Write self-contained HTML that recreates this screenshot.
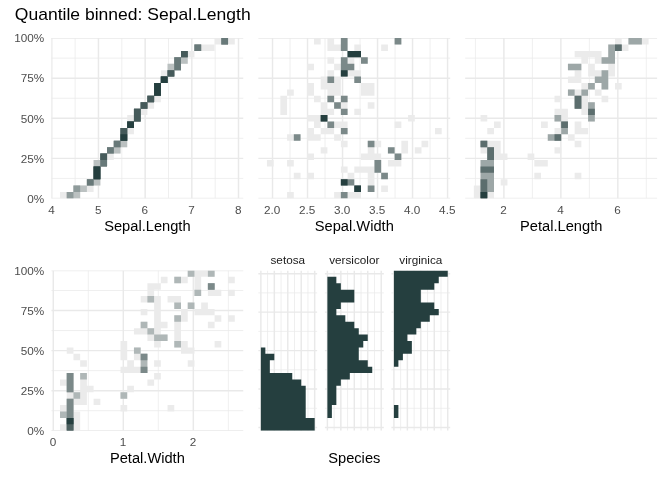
<!DOCTYPE html>
<html><head><meta charset="utf-8"><title>Quantile binned: Sepal.Length</title>
<style>html,body{margin:0;padding:0;background:#fff}svg{display:block;font-family:"Liberation Sans",Arial,Helvetica,sans-serif}</style>
</head><body>
<svg width="672" height="480" viewBox="0 0 672 480" shape-rendering="auto">
<rect x="0" y="0" width="672" height="480" fill="#ffffff"/>
<clipPath id="c1"><rect x="51.27" y="38.10" width="192.24" height="160.35"/></clipPath>
<g clip-path="url(#c1)">
<line x1="51.27" y1="178.41" x2="243.51" y2="178.41" stroke="#e9e9e9" stroke-width="0.75"/>
<line x1="51.27" y1="138.32" x2="243.51" y2="138.32" stroke="#e9e9e9" stroke-width="0.75"/>
<line x1="51.27" y1="98.23" x2="243.51" y2="98.23" stroke="#e9e9e9" stroke-width="0.75"/>
<line x1="51.27" y1="58.14" x2="243.51" y2="58.14" stroke="#e9e9e9" stroke-width="0.75"/>
<line x1="75.13" y1="38.10" x2="75.13" y2="198.45" stroke="#e9e9e9" stroke-width="0.75"/>
<line x1="121.81" y1="38.10" x2="121.81" y2="198.45" stroke="#e9e9e9" stroke-width="0.75"/>
<line x1="168.49" y1="38.10" x2="168.49" y2="198.45" stroke="#e9e9e9" stroke-width="0.75"/>
<line x1="215.17" y1="38.10" x2="215.17" y2="198.45" stroke="#e9e9e9" stroke-width="0.75"/>
<line x1="51.27" y1="198.45" x2="243.51" y2="198.45" stroke="#e9e9e9" stroke-width="1.45"/>
<line x1="51.27" y1="158.36" x2="243.51" y2="158.36" stroke="#e9e9e9" stroke-width="1.45"/>
<line x1="51.27" y1="118.27" x2="243.51" y2="118.27" stroke="#e9e9e9" stroke-width="1.45"/>
<line x1="51.27" y1="78.19" x2="243.51" y2="78.19" stroke="#e9e9e9" stroke-width="1.45"/>
<line x1="51.27" y1="38.10" x2="243.51" y2="38.10" stroke="#e9e9e9" stroke-width="1.45"/>
<line x1="51.79" y1="38.10" x2="51.79" y2="198.45" stroke="#e9e9e9" stroke-width="1.45"/>
<line x1="98.47" y1="38.10" x2="98.47" y2="198.45" stroke="#e9e9e9" stroke-width="1.45"/>
<line x1="145.15" y1="38.10" x2="145.15" y2="198.45" stroke="#e9e9e9" stroke-width="1.45"/>
<line x1="191.83" y1="38.10" x2="191.83" y2="198.45" stroke="#e9e9e9" stroke-width="1.45"/>
<line x1="238.51" y1="38.10" x2="238.51" y2="198.45" stroke="#e9e9e9" stroke-width="1.45"/>
<path fill="#ebebeb" fill-rule="evenodd" d="M93.62 159.97L93.62 166.38L93.62 172.79L93.62 179.21L86.89 179.21L86.89 185.62L80.17 185.62L73.45 185.62L73.45 192.04L66.73 192.04L60.01 192.04L60.01 198.45L66.73 198.45L73.45 198.45L80.17 198.45L80.17 192.04L86.89 192.04L93.62 192.04L93.62 185.62L100.34 185.62L100.34 179.21L100.34 172.79L100.34 166.38L107.06 166.38L107.06 159.97L113.78 159.97L113.78 153.55L120.50 153.55L120.50 147.14L127.22 147.14L127.22 140.72L127.22 134.31L133.95 134.31L133.95 127.90L133.95 121.48L140.67 121.48L140.67 115.07L147.39 115.07L147.39 108.65L154.11 108.65L154.11 102.24L160.83 102.24L160.83 95.83L160.83 89.41L160.83 83.00L154.11 83.00L154.11 89.41L154.11 95.83L147.39 95.83L147.39 102.24L140.67 102.24L140.67 108.65L133.95 108.65L133.95 115.07L127.22 115.07L127.22 121.48L127.22 127.90L120.50 127.90L120.50 134.31L120.50 140.72L113.78 140.72L113.78 147.14L107.06 147.14L107.06 153.55L100.34 153.55L100.34 159.97ZM234.77 44.51L234.77 38.10L228.05 38.10L221.33 38.10L214.61 38.10L214.61 44.51L221.33 44.51L228.05 44.51ZM214.61 50.93L214.61 44.51L207.88 44.51L201.16 44.51L194.44 44.51L194.44 50.93L201.16 50.93L207.88 50.93ZM181.00 50.93L181.00 57.34L174.28 57.34L174.28 63.76L167.56 63.76L167.56 70.17L160.83 70.17L160.83 76.58L160.83 83.00L167.56 83.00L167.56 76.58L174.28 76.58L174.28 70.17L181.00 70.17L181.00 63.76L187.72 63.76L187.72 57.34L194.44 57.34L194.44 50.93L187.72 50.93Z"/>
<path fill="#bbc1c1" fill-rule="evenodd" d="M113.78 140.72L113.78 147.14L107.06 147.14L107.06 153.55L113.78 153.55L120.50 153.55L120.50 147.14L127.22 147.14L127.22 140.72L127.22 134.31L127.22 127.90L120.50 127.90L120.50 134.31L120.50 140.72ZM93.62 159.97L93.62 166.38L93.62 172.79L93.62 179.21L86.89 179.21L86.89 185.62L93.62 185.62L100.34 185.62L100.34 179.21L100.34 172.79L100.34 166.38L107.06 166.38L107.06 159.97L107.06 153.55L100.34 153.55L100.34 159.97ZM73.45 185.62L73.45 192.04L66.73 192.04L66.73 198.45L73.45 198.45L80.17 198.45L80.17 192.04L86.89 192.04L86.89 185.62L80.17 185.62ZM221.33 38.10L221.33 44.51L228.05 44.51L228.05 38.10ZM194.44 44.51L194.44 50.93L201.16 50.93L201.16 44.51ZM181.00 57.34L174.28 57.34L174.28 63.76L167.56 63.76L167.56 70.17L167.56 76.58L174.28 76.58L174.28 70.17L181.00 70.17L181.00 63.76L187.72 63.76L187.72 57.34L187.72 50.93L181.00 50.93ZM160.83 76.58L160.83 83.00L167.56 83.00L167.56 76.58ZM160.83 95.83L160.83 89.41L160.83 83.00L154.11 83.00L154.11 89.41L154.11 95.83ZM154.11 102.24L154.11 95.83L147.39 95.83L147.39 102.24ZM140.67 102.24L140.67 108.65L147.39 108.65L147.39 102.24ZM140.67 121.48L140.67 115.07L140.67 108.65L133.95 108.65L133.95 115.07L133.95 121.48ZM127.22 127.90L133.95 127.90L133.95 121.48L127.22 121.48Z"/>
<path fill="#8f9b9b" fill-rule="evenodd" d="M133.95 121.48L140.67 121.48L140.67 115.07L140.67 108.65L133.95 108.65L133.95 115.07ZM133.95 127.90L133.95 121.48L127.22 121.48L127.22 127.90ZM120.50 134.31L120.50 140.72L127.22 140.72L127.22 134.31L127.22 127.90L120.50 127.90ZM120.50 147.14L120.50 140.72L113.78 140.72L113.78 147.14ZM107.06 147.14L107.06 153.55L113.78 153.55L113.78 147.14ZM100.34 166.38L107.06 166.38L107.06 159.97L107.06 153.55L100.34 153.55L100.34 159.97ZM93.62 172.79L93.62 179.21L100.34 179.21L100.34 172.79L100.34 166.38L93.62 166.38ZM86.89 179.21L86.89 185.62L93.62 185.62L93.62 179.21ZM73.45 185.62L73.45 192.04L80.17 192.04L80.17 185.62ZM73.45 192.04L66.73 192.04L66.73 198.45L73.45 198.45ZM221.33 38.10L221.33 44.51L228.05 44.51L228.05 38.10ZM194.44 44.51L194.44 50.93L201.16 50.93L201.16 44.51ZM181.00 57.34L187.72 57.34L187.72 50.93L181.00 50.93ZM181.00 70.17L181.00 63.76L181.00 57.34L174.28 57.34L174.28 63.76L174.28 70.17ZM167.56 76.58L174.28 76.58L174.28 70.17L167.56 70.17ZM167.56 83.00L167.56 76.58L160.83 76.58L160.83 83.00ZM154.11 89.41L154.11 95.83L160.83 95.83L160.83 89.41L160.83 83.00L154.11 83.00ZM147.39 95.83L147.39 102.24L154.11 102.24L154.11 95.83ZM147.39 108.65L147.39 102.24L140.67 102.24L140.67 108.65Z"/>
<path fill="#687979" fill-rule="evenodd" d="M133.95 121.48L140.67 121.48L140.67 115.07L140.67 108.65L133.95 108.65L133.95 115.07ZM127.22 127.90L133.95 127.90L133.95 121.48L127.22 121.48ZM127.22 140.72L127.22 134.31L127.22 127.90L120.50 127.90L120.50 134.31L120.50 140.72ZM113.78 147.14L120.50 147.14L120.50 140.72L113.78 140.72ZM113.78 153.55L113.78 147.14L107.06 147.14L107.06 153.55ZM100.34 159.97L100.34 166.38L107.06 166.38L107.06 159.97L107.06 153.55L100.34 153.55ZM100.34 179.21L100.34 172.79L100.34 166.38L93.62 166.38L93.62 172.79L93.62 179.21ZM93.62 179.21L86.89 179.21L86.89 185.62L93.62 185.62ZM221.33 38.10L221.33 44.51L228.05 44.51L228.05 38.10ZM194.44 44.51L194.44 50.93L201.16 50.93L201.16 44.51ZM181.00 57.34L187.72 57.34L187.72 50.93L181.00 50.93ZM181.00 70.17L181.00 63.76L181.00 57.34L174.28 57.34L174.28 63.76L174.28 70.17ZM167.56 76.58L174.28 76.58L174.28 70.17L167.56 70.17ZM167.56 83.00L167.56 76.58L160.83 76.58L160.83 83.00ZM154.11 89.41L154.11 95.83L160.83 95.83L160.83 89.41L160.83 83.00L154.11 83.00ZM154.11 102.24L154.11 95.83L147.39 95.83L147.39 102.24ZM140.67 102.24L140.67 108.65L147.39 108.65L147.39 102.24Z"/>
<path fill="#455a5a" fill-rule="evenodd" d="M133.95 115.07L133.95 121.48L140.67 121.48L140.67 115.07L140.67 108.65L133.95 108.65ZM133.95 121.48L127.22 121.48L127.22 127.90L133.95 127.90ZM120.50 140.72L127.22 140.72L127.22 134.31L127.22 127.90L120.50 127.90L120.50 134.31ZM107.06 153.55L100.34 153.55L100.34 159.97L107.06 159.97ZM100.34 166.38L93.62 166.38L93.62 172.79L93.62 179.21L100.34 179.21L100.34 172.79ZM187.72 50.93L181.00 50.93L181.00 57.34L187.72 57.34ZM167.56 76.58L174.28 76.58L174.28 70.17L167.56 70.17ZM167.56 76.58L160.83 76.58L160.83 83.00L167.56 83.00ZM154.11 95.83L160.83 95.83L160.83 89.41L160.83 83.00L154.11 83.00L154.11 89.41ZM147.39 102.24L154.11 102.24L154.11 95.83L147.39 95.83ZM147.39 102.24L140.67 102.24L140.67 108.65L147.39 108.65Z"/>
<path fill="#253f3f" fill-rule="evenodd" d="M167.56 76.58L160.83 76.58L160.83 83.00L167.56 83.00ZM154.11 89.41L154.11 95.83L160.83 95.83L160.83 89.41L160.83 83.00L154.11 83.00ZM133.95 127.90L133.95 121.48L127.22 121.48L127.22 127.90ZM127.22 140.72L127.22 134.31L120.50 134.31L120.50 140.72ZM93.62 172.79L93.62 179.21L100.34 179.21L100.34 172.79L100.34 166.38L93.62 166.38Z"/>
</g>
<text x="51.49" y="214.05" font-size="11.73" text-anchor="middle" fill="#4d4d4d">4</text>
<text x="98.17" y="214.05" font-size="11.73" text-anchor="middle" fill="#4d4d4d">5</text>
<text x="144.85" y="214.05" font-size="11.73" text-anchor="middle" fill="#4d4d4d">6</text>
<text x="191.53" y="214.05" font-size="11.73" text-anchor="middle" fill="#4d4d4d">7</text>
<text x="238.21" y="214.05" font-size="11.73" text-anchor="middle" fill="#4d4d4d">8</text>
<text x="147.39" y="230.85" font-size="14.67" text-anchor="middle" fill="#000">Sepal.Length</text>
<text x="44.27" y="202.75" font-size="11.73" text-anchor="end" fill="#4d4d4d">0%</text>
<text x="44.27" y="162.66" font-size="11.73" text-anchor="end" fill="#4d4d4d">25%</text>
<text x="44.27" y="122.57" font-size="11.73" text-anchor="end" fill="#4d4d4d">50%</text>
<text x="44.27" y="82.49" font-size="11.73" text-anchor="end" fill="#4d4d4d">75%</text>
<text x="44.27" y="42.40" font-size="11.73" text-anchor="end" fill="#4d4d4d">100%</text>
<clipPath id="c2"><rect x="258.18" y="38.10" width="192.24" height="160.35"/></clipPath>
<g clip-path="url(#c2)">
<line x1="258.18" y1="178.41" x2="450.42" y2="178.41" stroke="#e9e9e9" stroke-width="0.75"/>
<line x1="258.18" y1="138.32" x2="450.42" y2="138.32" stroke="#e9e9e9" stroke-width="0.75"/>
<line x1="258.18" y1="98.23" x2="450.42" y2="98.23" stroke="#e9e9e9" stroke-width="0.75"/>
<line x1="258.18" y1="58.14" x2="450.42" y2="58.14" stroke="#e9e9e9" stroke-width="0.75"/>
<line x1="290.02" y1="38.10" x2="290.02" y2="198.45" stroke="#e9e9e9" stroke-width="0.75"/>
<line x1="325.03" y1="38.10" x2="325.03" y2="198.45" stroke="#e9e9e9" stroke-width="0.75"/>
<line x1="360.04" y1="38.10" x2="360.04" y2="198.45" stroke="#e9e9e9" stroke-width="0.75"/>
<line x1="395.05" y1="38.10" x2="395.05" y2="198.45" stroke="#e9e9e9" stroke-width="0.75"/>
<line x1="430.06" y1="38.10" x2="430.06" y2="198.45" stroke="#e9e9e9" stroke-width="0.75"/>
<line x1="258.18" y1="198.45" x2="450.42" y2="198.45" stroke="#e9e9e9" stroke-width="1.45"/>
<line x1="258.18" y1="158.36" x2="450.42" y2="158.36" stroke="#e9e9e9" stroke-width="1.45"/>
<line x1="258.18" y1="118.27" x2="450.42" y2="118.27" stroke="#e9e9e9" stroke-width="1.45"/>
<line x1="258.18" y1="78.19" x2="450.42" y2="78.19" stroke="#e9e9e9" stroke-width="1.45"/>
<line x1="258.18" y1="38.10" x2="450.42" y2="38.10" stroke="#e9e9e9" stroke-width="1.45"/>
<line x1="272.52" y1="38.10" x2="272.52" y2="198.45" stroke="#e9e9e9" stroke-width="1.45"/>
<line x1="307.53" y1="38.10" x2="307.53" y2="198.45" stroke="#e9e9e9" stroke-width="1.45"/>
<line x1="342.54" y1="38.10" x2="342.54" y2="198.45" stroke="#e9e9e9" stroke-width="1.45"/>
<line x1="377.55" y1="38.10" x2="377.55" y2="198.45" stroke="#e9e9e9" stroke-width="1.45"/>
<line x1="412.55" y1="38.10" x2="412.55" y2="198.45" stroke="#e9e9e9" stroke-width="1.45"/>
<line x1="447.56" y1="38.10" x2="447.56" y2="198.45" stroke="#e9e9e9" stroke-width="1.45"/>
<path fill="#ebebeb" fill-rule="evenodd" d="M313.97 44.51L320.69 44.51L320.69 38.10L313.97 38.10ZM313.97 70.17L313.97 63.76L307.25 63.76L307.25 70.17ZM327.41 89.41L327.41 95.83L327.41 102.24L334.13 102.24L334.13 95.83L340.86 95.83L340.86 89.41L340.86 83.00L340.86 76.58L334.13 76.58L334.13 70.17L327.41 70.17L327.41 76.58L320.69 76.58L320.69 83.00L320.69 89.41ZM307.25 83.00L307.25 89.41L307.25 95.83L313.97 95.83L313.97 89.41L313.97 83.00ZM293.81 95.83L293.81 89.41L287.08 89.41L287.08 95.83ZM287.08 108.65L287.08 102.24L287.08 95.83L280.36 95.83L280.36 102.24L280.36 108.65L280.36 115.07L287.08 115.07ZM313.97 102.24L320.69 102.24L320.69 95.83L313.97 95.83ZM320.69 102.24L320.69 108.65L320.69 115.07L313.97 115.07L307.25 115.07L307.25 121.48L313.97 121.48L313.97 127.90L320.69 127.90L320.69 121.48L327.41 121.48L327.41 115.07L334.13 115.07L334.13 108.65L327.41 108.65L327.41 102.24ZM334.13 134.31L334.13 127.90L340.86 127.90L340.86 134.31L347.58 134.31L347.58 127.90L347.58 121.48L340.86 121.48L334.13 121.48L327.41 121.48L327.41 127.90L320.69 127.90L320.69 134.31L327.41 134.31ZM320.69 134.31L313.97 134.31L313.97 127.90L307.25 127.90L307.25 134.31L307.25 140.72L313.97 140.72L320.69 140.72ZM287.08 140.72L293.81 140.72L300.53 140.72L300.53 134.31L293.81 134.31L287.08 134.31ZM327.41 153.55L327.41 147.14L320.69 147.14L320.69 153.55ZM313.97 159.97L313.97 153.55L307.25 153.55L307.25 159.97ZM293.81 166.38L293.81 159.97L287.08 159.97L287.08 166.38ZM273.64 166.38L273.64 159.97L266.92 159.97L266.92 166.38ZM313.97 179.21L313.97 172.79L307.25 172.79L307.25 179.21ZM300.53 179.21L300.53 172.79L293.81 172.79L293.81 179.21ZM287.08 198.45L293.81 198.45L293.81 192.04L287.08 192.04ZM334.13 50.93L340.86 50.93L347.58 50.93L347.58 44.51L347.58 38.10L340.86 38.10L340.86 44.51L334.13 44.51L334.13 38.10L327.41 38.10L327.41 44.51L327.41 50.93ZM334.13 63.76L334.13 57.34L327.41 57.34L327.41 63.76ZM334.13 63.76L334.13 70.17L340.86 70.17L340.86 76.58L347.58 76.58L354.30 76.58L354.30 83.00L361.02 83.00L361.02 76.58L361.02 70.17L354.30 70.17L354.30 63.76L354.30 57.34L361.02 57.34L361.02 50.93L361.02 44.51L354.30 44.51L354.30 50.93L347.58 50.93L347.58 57.34L340.86 57.34L340.86 63.76ZM340.86 108.65L340.86 115.07L347.58 115.07L347.58 108.65L347.58 102.24L347.58 95.83L340.86 95.83L340.86 102.24L334.13 102.24L334.13 108.65ZM334.13 140.72L340.86 140.72L340.86 134.31L334.13 134.31ZM347.58 140.72L340.86 140.72L340.86 147.14L347.58 147.14ZM347.58 185.62L354.30 185.62L354.30 179.21L354.30 172.79L347.58 172.79L347.58 179.21L340.86 179.21L340.86 185.62ZM340.86 198.45L347.58 198.45L354.30 198.45L361.02 198.45L361.02 192.04L361.02 185.62L354.30 185.62L354.30 192.04L347.58 192.04L340.86 192.04L334.13 192.04L334.13 198.45ZM367.74 63.76L367.74 57.34L361.02 57.34L361.02 63.76ZM361.02 89.41L361.02 95.83L367.74 95.83L374.46 95.83L374.46 89.41L374.46 83.00L367.74 83.00L361.02 83.00ZM361.02 115.07L361.02 108.65L354.30 108.65L354.30 115.07ZM367.74 159.97L374.46 159.97L374.46 166.38L367.74 166.38L361.02 166.38L354.30 166.38L354.30 172.79L361.02 172.79L367.74 172.79L367.74 179.21L367.74 185.62L367.74 192.04L374.46 192.04L374.46 185.62L374.46 179.21L374.46 172.79L381.19 172.79L381.19 166.38L381.19 159.97L381.19 153.55L374.46 153.55L374.46 147.14L381.19 147.14L381.19 140.72L374.46 140.72L367.74 140.72L367.74 147.14L367.74 153.55L361.02 153.55L361.02 159.97ZM340.86 172.79L347.58 172.79L347.58 166.38L340.86 166.38ZM401.35 44.51L401.35 38.10L394.63 38.10L394.63 44.51ZM387.91 50.93L387.91 44.51L381.19 44.51L381.19 50.93ZM374.46 108.65L374.46 102.24L367.74 102.24L367.74 108.65ZM414.80 121.48L414.80 115.07L408.07 115.07L408.07 121.48ZM394.63 127.90L401.35 127.90L401.35 121.48L394.63 121.48ZM441.68 134.31L441.68 127.90L434.96 127.90L434.96 134.31ZM428.24 147.14L428.24 140.72L421.52 140.72L421.52 147.14ZM401.35 153.55L408.07 153.55L408.07 147.14L408.07 140.72L401.35 140.72L401.35 147.14ZM421.52 153.55L421.52 147.14L414.80 147.14L414.80 153.55ZM394.63 153.55L394.63 147.14L387.91 147.14L387.91 153.55ZM387.91 159.97L387.91 166.38L394.63 166.38L401.35 166.38L401.35 159.97L401.35 153.55L394.63 153.55L394.63 159.97ZM387.91 179.21L387.91 172.79L381.19 172.79L381.19 179.21ZM387.91 192.04L387.91 185.62L381.19 185.62L381.19 192.04Z"/>
<path fill="#7b8989" fill-rule="evenodd" d="M340.86 50.93L347.58 50.93L347.58 44.51L347.58 38.10L340.86 38.10L340.86 44.51ZM340.86 63.76L340.86 70.17L340.86 76.58L347.58 76.58L347.58 70.17L354.30 70.17L354.30 63.76L347.58 63.76L347.58 57.34L340.86 57.34ZM327.41 76.58L327.41 83.00L334.13 83.00L334.13 76.58ZM327.41 95.83L327.41 102.24L334.13 102.24L334.13 95.83ZM347.58 102.24L347.58 95.83L340.86 95.83L340.86 102.24ZM334.13 102.24L334.13 108.65L340.86 108.65L340.86 102.24ZM340.86 108.65L340.86 115.07L347.58 115.07L347.58 108.65ZM320.69 115.07L320.69 121.48L327.41 121.48L327.41 115.07ZM327.41 121.48L327.41 127.90L334.13 127.90L334.13 121.48ZM340.86 127.90L340.86 134.31L347.58 134.31L347.58 127.90ZM293.81 134.31L293.81 140.72L300.53 140.72L300.53 134.31ZM340.86 179.21L340.86 185.62L347.58 185.62L354.30 185.62L354.30 179.21L347.58 179.21ZM340.86 192.04L340.86 198.45L347.58 198.45L347.58 192.04ZM394.63 38.10L394.63 44.51L401.35 44.51L401.35 38.10ZM361.02 50.93L354.30 50.93L347.58 50.93L347.58 57.34L354.30 57.34L361.02 57.34ZM361.02 57.34L361.02 63.76L367.74 63.76L367.74 57.34ZM354.30 76.58L354.30 83.00L361.02 83.00L361.02 76.58ZM367.74 140.72L367.74 147.14L374.46 147.14L374.46 140.72ZM394.63 147.14L387.91 147.14L387.91 153.55L394.63 153.55ZM394.63 159.97L401.35 159.97L401.35 153.55L394.63 153.55ZM381.19 172.79L381.19 166.38L381.19 159.97L374.46 159.97L374.46 166.38L374.46 172.79ZM381.19 172.79L381.19 179.21L387.91 179.21L387.91 172.79ZM354.30 185.62L354.30 192.04L361.02 192.04L361.02 185.62ZM367.74 185.62L367.74 192.04L374.46 192.04L374.46 185.62Z"/>
<path fill="#253f3f" fill-rule="evenodd" d="M347.58 57.34L354.30 57.34L361.02 57.34L361.02 50.93L354.30 50.93L347.58 50.93ZM347.58 76.58L347.58 70.17L340.86 70.17L340.86 76.58ZM320.69 121.48L327.41 121.48L327.41 115.07L320.69 115.07ZM347.58 185.62L347.58 179.21L340.86 179.21L340.86 185.62ZM361.02 192.04L361.02 185.62L354.30 185.62L354.30 192.04Z"/>
</g>
<text x="272.22" y="214.05" font-size="11.73" text-anchor="middle" fill="#4d4d4d">2.0</text>
<text x="307.23" y="214.05" font-size="11.73" text-anchor="middle" fill="#4d4d4d">2.5</text>
<text x="342.24" y="214.05" font-size="11.73" text-anchor="middle" fill="#4d4d4d">3.0</text>
<text x="377.25" y="214.05" font-size="11.73" text-anchor="middle" fill="#4d4d4d">3.5</text>
<text x="412.25" y="214.05" font-size="11.73" text-anchor="middle" fill="#4d4d4d">4.0</text>
<text x="447.26" y="214.05" font-size="11.73" text-anchor="middle" fill="#4d4d4d">4.5</text>
<text x="354.30" y="230.85" font-size="14.67" text-anchor="middle" fill="#000">Sepal.Width</text>
<clipPath id="c3"><rect x="465.09" y="38.10" width="192.24" height="160.35"/></clipPath>
<g clip-path="url(#c3)">
<line x1="465.09" y1="178.41" x2="657.33" y2="178.41" stroke="#e9e9e9" stroke-width="0.75"/>
<line x1="465.09" y1="138.32" x2="657.33" y2="138.32" stroke="#e9e9e9" stroke-width="0.75"/>
<line x1="465.09" y1="98.23" x2="657.33" y2="98.23" stroke="#e9e9e9" stroke-width="0.75"/>
<line x1="465.09" y1="58.14" x2="657.33" y2="58.14" stroke="#e9e9e9" stroke-width="0.75"/>
<line x1="475.42" y1="38.10" x2="475.42" y2="198.45" stroke="#e9e9e9" stroke-width="0.75"/>
<line x1="532.39" y1="38.10" x2="532.39" y2="198.45" stroke="#e9e9e9" stroke-width="0.75"/>
<line x1="589.35" y1="38.10" x2="589.35" y2="198.45" stroke="#e9e9e9" stroke-width="0.75"/>
<line x1="646.31" y1="38.10" x2="646.31" y2="198.45" stroke="#e9e9e9" stroke-width="0.75"/>
<line x1="465.09" y1="198.45" x2="657.33" y2="198.45" stroke="#e9e9e9" stroke-width="1.45"/>
<line x1="465.09" y1="158.36" x2="657.33" y2="158.36" stroke="#e9e9e9" stroke-width="1.45"/>
<line x1="465.09" y1="118.27" x2="657.33" y2="118.27" stroke="#e9e9e9" stroke-width="1.45"/>
<line x1="465.09" y1="78.19" x2="657.33" y2="78.19" stroke="#e9e9e9" stroke-width="1.45"/>
<line x1="465.09" y1="38.10" x2="657.33" y2="38.10" stroke="#e9e9e9" stroke-width="1.45"/>
<line x1="503.90" y1="38.10" x2="503.90" y2="198.45" stroke="#e9e9e9" stroke-width="1.45"/>
<line x1="560.87" y1="38.10" x2="560.87" y2="198.45" stroke="#e9e9e9" stroke-width="1.45"/>
<line x1="617.83" y1="38.10" x2="617.83" y2="198.45" stroke="#e9e9e9" stroke-width="1.45"/>
<path fill="#ebebeb" fill-rule="evenodd" d="M480.55 121.48L487.27 121.48L487.27 115.07L480.55 115.07ZM493.99 127.90L500.71 127.90L500.71 121.48L493.99 121.48ZM487.27 134.31L493.99 134.31L493.99 127.90L487.27 127.90ZM487.27 153.55L487.27 159.97L480.55 159.97L480.55 166.38L480.55 172.79L480.55 179.21L480.55 185.62L473.83 185.62L473.83 192.04L473.83 198.45L480.55 198.45L487.27 198.45L493.99 198.45L493.99 192.04L493.99 185.62L493.99 179.21L493.99 172.79L493.99 166.38L493.99 159.97L500.71 159.97L507.44 159.97L507.44 153.55L500.71 153.55L500.71 147.14L500.71 140.72L493.99 140.72L487.27 140.72L480.55 140.72L480.55 147.14L480.55 153.55ZM574.65 70.17L574.65 76.58L567.93 76.58L567.93 83.00L574.65 83.00L581.38 83.00L581.38 76.58L581.38 70.17L581.38 63.76L574.65 63.76L567.93 63.76L567.93 70.17ZM567.93 95.83L574.65 95.83L574.65 102.24L574.65 108.65L581.38 108.65L581.38 115.07L588.10 115.07L588.10 121.48L594.82 121.48L594.82 115.07L594.82 108.65L594.82 102.24L588.10 102.24L588.10 95.83L588.10 89.41L594.82 89.41L594.82 83.00L588.10 83.00L581.38 83.00L581.38 89.41L574.65 89.41L567.93 89.41ZM561.21 102.24L561.21 95.83L554.49 95.83L554.49 102.24ZM554.49 115.07L554.49 121.48L561.21 121.48L561.21 127.90L554.49 127.90L554.49 134.31L547.77 134.31L547.77 140.72L554.49 140.72L561.21 140.72L561.21 134.31L567.93 134.31L567.93 127.90L567.93 121.48L567.93 115.07L567.93 108.65L561.21 108.65L554.49 108.65ZM541.04 127.90L547.77 127.90L547.77 121.48L541.04 121.48ZM567.93 140.72L574.65 140.72L574.65 134.31L567.93 134.31ZM561.21 153.55L561.21 147.14L554.49 147.14L554.49 153.55ZM527.60 159.97L534.32 159.97L534.32 153.55L527.60 153.55ZM534.32 166.38L541.04 166.38L547.77 166.38L547.77 159.97L541.04 159.97L534.32 159.97ZM581.38 179.21L581.38 172.79L574.65 172.79L574.65 179.21ZM541.04 179.21L541.04 172.79L534.32 172.79L534.32 179.21ZM500.71 185.62L507.44 185.62L507.44 179.21L500.71 179.21ZM588.10 76.58L594.82 76.58L594.82 83.00L601.54 83.00L601.54 89.41L608.26 89.41L608.26 83.00L608.26 76.58L614.98 76.58L614.98 70.17L614.98 63.76L614.98 57.34L614.98 50.93L621.71 50.93L628.43 50.93L628.43 44.51L621.71 44.51L621.71 38.10L614.98 38.10L614.98 44.51L608.26 44.51L608.26 50.93L608.26 57.34L601.54 57.34L601.54 50.93L594.82 50.93L588.10 50.93L581.38 50.93L574.65 50.93L574.65 57.34L581.38 57.34L581.38 63.76L588.10 63.76L588.10 70.17ZM588.10 57.34L594.82 57.34L594.82 63.76L588.10 63.76ZM601.54 63.76L608.26 63.76L608.26 70.17L601.54 70.17L594.82 70.17L594.82 63.76ZM588.10 134.31L588.10 127.90L581.38 127.90L581.38 121.48L574.65 121.48L574.65 127.90L574.65 134.31L581.38 134.31ZM574.65 147.14L581.38 147.14L581.38 140.72L574.65 140.72ZM635.15 44.51L641.87 44.51L648.59 44.51L648.59 38.10L641.87 38.10L635.15 38.10L628.43 38.10L628.43 44.51ZM621.71 89.41L621.71 83.00L614.98 83.00L614.98 89.41ZM594.82 89.41L594.82 95.83L601.54 95.83L601.54 89.41ZM608.26 102.24L608.26 95.83L601.54 95.83L601.54 102.24Z"/>
<path fill="#9da7a7" fill-rule="evenodd" d="M567.93 63.76L567.93 70.17L574.65 70.17L581.38 70.17L581.38 63.76L574.65 63.76ZM554.49 115.07L554.49 121.48L561.21 121.48L561.21 115.07ZM567.93 134.31L567.93 127.90L567.93 121.48L561.21 121.48L561.21 127.90L561.21 134.31ZM554.49 140.72L561.21 140.72L561.21 134.31L554.49 134.31L547.77 134.31L547.77 140.72ZM480.55 140.72L480.55 147.14L487.27 147.14L487.27 140.72ZM480.55 159.97L480.55 166.38L480.55 172.79L480.55 179.21L480.55 185.62L480.55 192.04L480.55 198.45L487.27 198.45L487.27 192.04L493.99 192.04L493.99 185.62L493.99 179.21L493.99 172.79L493.99 166.38L493.99 159.97L493.99 153.55L493.99 147.14L487.27 147.14L487.27 153.55L487.27 159.97ZM628.43 44.51L635.15 44.51L641.87 44.51L641.87 38.10L635.15 38.10L628.43 38.10ZM608.26 50.93L608.26 57.34L601.54 57.34L601.54 63.76L608.26 63.76L614.98 63.76L614.98 57.34L614.98 50.93L621.71 50.93L621.71 44.51L614.98 44.51L608.26 44.51ZM601.54 70.17L601.54 76.58L594.82 76.58L594.82 83.00L601.54 83.00L601.54 89.41L608.26 89.41L608.26 83.00L608.26 76.58L608.26 70.17ZM588.10 83.00L588.10 89.41L594.82 89.41L594.82 83.00ZM581.38 95.83L588.10 95.83L588.10 89.41L581.38 89.41ZM567.93 95.83L574.65 95.83L574.65 89.41L567.93 89.41ZM581.38 102.24L581.38 95.83L574.65 95.83L574.65 102.24L574.65 108.65L581.38 108.65ZM594.82 121.48L594.82 115.07L594.82 108.65L594.82 102.24L588.10 102.24L588.10 108.65L588.10 115.07L588.10 121.48Z"/>
<path fill="#5c6e6e" fill-rule="evenodd" d="M480.55 147.14L487.27 147.14L487.27 140.72L480.55 140.72ZM493.99 147.14L487.27 147.14L487.27 153.55L487.27 159.97L493.99 159.97L493.99 153.55ZM493.99 172.79L493.99 166.38L487.27 166.38L480.55 166.38L480.55 172.79L487.27 172.79ZM480.55 198.45L487.27 198.45L487.27 192.04L487.27 185.62L487.27 179.21L480.55 179.21L480.55 185.62L480.55 192.04ZM621.71 50.93L621.71 44.51L614.98 44.51L614.98 50.93ZM574.65 108.65L581.38 108.65L581.38 102.24L581.38 95.83L574.65 95.83L574.65 102.24ZM594.82 108.65L588.10 108.65L588.10 115.07L594.82 115.07ZM567.93 121.48L561.21 121.48L561.21 127.90L567.93 127.90ZM561.21 134.31L554.49 134.31L554.49 140.72L561.21 140.72Z"/>
<path fill="#253f3f" fill-rule="evenodd" d="M487.27 192.04L487.27 198.45L480.55 198.45L480.55 192.04Z"/>
</g>
<text x="503.60" y="214.05" font-size="11.73" text-anchor="middle" fill="#4d4d4d">2</text>
<text x="560.57" y="214.05" font-size="11.73" text-anchor="middle" fill="#4d4d4d">4</text>
<text x="617.53" y="214.05" font-size="11.73" text-anchor="middle" fill="#4d4d4d">6</text>
<text x="561.21" y="230.85" font-size="14.67" text-anchor="middle" fill="#000">Petal.Length</text>
<clipPath id="c4"><rect x="51.27" y="270.45" width="192.24" height="160.30"/></clipPath>
<g clip-path="url(#c4)">
<line x1="51.27" y1="410.71" x2="243.51" y2="410.71" stroke="#e9e9e9" stroke-width="0.75"/>
<line x1="51.27" y1="370.64" x2="243.51" y2="370.64" stroke="#e9e9e9" stroke-width="0.75"/>
<line x1="51.27" y1="330.56" x2="243.51" y2="330.56" stroke="#e9e9e9" stroke-width="0.75"/>
<line x1="51.27" y1="290.49" x2="243.51" y2="290.49" stroke="#e9e9e9" stroke-width="0.75"/>
<line x1="88.30" y1="270.45" x2="88.30" y2="430.75" stroke="#e9e9e9" stroke-width="0.75"/>
<line x1="158.31" y1="270.45" x2="158.31" y2="430.75" stroke="#e9e9e9" stroke-width="0.75"/>
<line x1="228.33" y1="270.45" x2="228.33" y2="430.75" stroke="#e9e9e9" stroke-width="0.75"/>
<line x1="51.27" y1="430.75" x2="243.51" y2="430.75" stroke="#e9e9e9" stroke-width="1.45"/>
<line x1="51.27" y1="390.68" x2="243.51" y2="390.68" stroke="#e9e9e9" stroke-width="1.45"/>
<line x1="51.27" y1="350.60" x2="243.51" y2="350.60" stroke="#e9e9e9" stroke-width="1.45"/>
<line x1="51.27" y1="310.52" x2="243.51" y2="310.52" stroke="#e9e9e9" stroke-width="1.45"/>
<line x1="51.27" y1="270.45" x2="243.51" y2="270.45" stroke="#e9e9e9" stroke-width="1.45"/>
<line x1="53.29" y1="270.45" x2="53.29" y2="430.75" stroke="#e9e9e9" stroke-width="1.45"/>
<line x1="123.30" y1="270.45" x2="123.30" y2="430.75" stroke="#e9e9e9" stroke-width="1.45"/>
<line x1="193.32" y1="270.45" x2="193.32" y2="430.75" stroke="#e9e9e9" stroke-width="1.45"/>
<path fill="#ebebeb" fill-rule="evenodd" d="M66.73 347.39L66.73 353.81L73.45 353.81L73.45 347.39ZM73.45 360.22L80.17 360.22L80.17 353.81L73.45 353.81ZM86.89 360.22L80.17 360.22L80.17 366.63L86.89 366.63ZM80.17 385.87L80.17 392.28L73.45 392.28L73.45 385.87L73.45 379.45L73.45 373.04L66.73 373.04L66.73 379.45L60.01 379.45L60.01 385.87L66.73 385.87L66.73 392.28L66.73 398.69L66.73 405.10L60.01 405.10L60.01 411.51L60.01 417.93L66.73 417.93L66.73 424.34L60.01 424.34L60.01 430.75L66.73 430.75L73.45 430.75L80.17 430.75L80.17 424.34L80.17 417.93L80.17 411.51L73.45 411.51L73.45 405.10L80.17 405.10L86.89 405.10L86.89 398.69L86.89 392.28L93.62 392.28L93.62 385.87L86.89 385.87L86.89 379.45L86.89 373.04L80.17 373.04L80.17 379.45ZM147.39 302.51L154.11 302.51L154.11 308.92L154.11 315.33L154.11 321.75L154.11 328.16L147.39 328.16L147.39 321.75L140.67 321.75L140.67 328.16L133.95 328.16L133.95 334.57L140.67 334.57L147.39 334.57L147.39 340.98L154.11 340.98L154.11 347.39L160.83 347.39L160.83 340.98L167.56 340.98L167.56 334.57L160.83 334.57L160.83 328.16L167.56 328.16L167.56 321.75L160.83 321.75L160.83 315.33L160.83 308.92L160.83 302.51L160.83 296.10L154.11 296.10L154.11 289.69L160.83 289.69L160.83 283.27L154.11 283.27L147.39 283.27L147.39 289.69L147.39 296.10L140.67 296.10L140.67 302.51ZM147.39 315.33L147.39 308.92L140.67 308.92L140.67 315.33ZM120.50 353.81L120.50 360.22L127.22 360.22L127.22 353.81L127.22 347.39L127.22 340.98L120.50 340.98L120.50 347.39ZM133.95 360.22L127.22 360.22L127.22 366.63L120.50 366.63L120.50 373.04L127.22 373.04L133.95 373.04L140.67 373.04L147.39 373.04L147.39 366.63L147.39 360.22L147.39 353.81L140.67 353.81L140.67 347.39L133.95 347.39L133.95 353.81ZM140.67 360.22L140.67 366.63L133.95 366.63L133.95 360.22ZM154.11 385.87L154.11 379.45L147.39 379.45L147.39 385.87ZM133.95 392.28L133.95 385.87L127.22 385.87L127.22 392.28ZM127.22 398.69L127.22 392.28L120.50 392.28L120.50 398.69ZM100.34 405.10L100.34 398.69L93.62 398.69L93.62 405.10ZM120.50 411.51L127.22 411.51L127.22 405.10L120.50 405.10ZM181.00 283.27L187.72 283.27L187.72 276.86L181.00 276.86L174.28 276.86L174.28 283.27ZM167.56 283.27L167.56 276.86L160.83 276.86L160.83 283.27ZM174.28 308.92L181.00 308.92L181.00 302.51L181.00 296.10L174.28 296.10L167.56 296.10L167.56 302.51L174.28 302.51ZM174.28 334.57L174.28 340.98L174.28 347.39L181.00 347.39L181.00 353.81L187.72 353.81L194.44 353.81L194.44 347.39L187.72 347.39L187.72 340.98L181.00 340.98L181.00 334.57L181.00 328.16L181.00 321.75L187.72 321.75L187.72 315.33L187.72 308.92L181.00 308.92L181.00 315.33L174.28 315.33L174.28 321.75L174.28 328.16ZM160.83 366.63L160.83 360.22L154.11 360.22L154.11 366.63ZM154.11 379.45L160.83 379.45L160.83 373.04L154.11 373.04ZM174.28 411.51L174.28 405.10L167.56 405.10L167.56 411.51ZM207.88 270.45L201.16 270.45L194.44 270.45L187.72 270.45L187.72 276.86L194.44 276.86L194.44 283.27L194.44 289.69L194.44 296.10L201.16 296.10L201.16 289.69L201.16 283.27L201.16 276.86L207.88 276.86L214.61 276.86L214.61 270.45ZM234.77 283.27L234.77 276.86L228.05 276.86L228.05 283.27ZM207.88 296.10L214.61 296.10L221.33 296.10L221.33 289.69L214.61 289.69L214.61 283.27L207.88 283.27L207.88 289.69ZM234.77 296.10L234.77 289.69L228.05 289.69L228.05 296.10ZM194.44 315.33L201.16 315.33L207.88 315.33L214.61 315.33L214.61 308.92L207.88 308.92L207.88 302.51L201.16 302.51L201.16 308.92L194.44 308.92ZM194.44 308.92L194.44 302.51L187.72 302.51L187.72 308.92ZM221.33 321.75L221.33 315.33L214.61 315.33L214.61 321.75ZM234.77 321.75L234.77 315.33L228.05 315.33L228.05 321.75ZM214.61 328.16L214.61 321.75L207.88 321.75L207.88 328.16ZM221.33 347.39L221.33 340.98L214.61 340.98L214.61 347.39ZM194.44 366.63L194.44 360.22L187.72 360.22L187.72 366.63Z"/>
<path fill="#afb7b7" fill-rule="evenodd" d="M140.67 347.39L133.95 347.39L133.95 353.81L140.67 353.81ZM147.39 373.04L147.39 366.63L147.39 360.22L147.39 353.81L140.67 353.81L140.67 360.22L140.67 366.63L140.67 373.04ZM73.45 392.28L73.45 385.87L73.45 379.45L73.45 373.04L66.73 373.04L66.73 379.45L66.73 385.87L66.73 392.28ZM80.17 373.04L80.17 379.45L86.89 379.45L86.89 373.04ZM73.45 392.28L73.45 398.69L80.17 398.69L80.17 392.28ZM120.50 392.28L120.50 398.69L127.22 398.69L127.22 392.28ZM60.01 411.51L60.01 417.93L66.73 417.93L66.73 424.34L66.73 430.75L73.45 430.75L73.45 424.34L73.45 417.93L73.45 411.51L73.45 405.10L73.45 398.69L66.73 398.69L66.73 405.10L66.73 411.51ZM194.44 270.45L187.72 270.45L187.72 276.86L194.44 276.86ZM207.88 270.45L207.88 276.86L214.61 276.86L214.61 270.45ZM174.28 276.86L174.28 283.27L181.00 283.27L181.00 276.86ZM207.88 283.27L207.88 289.69L214.61 289.69L214.61 283.27ZM194.44 289.69L194.44 296.10L201.16 296.10L201.16 289.69ZM147.39 296.10L147.39 302.51L154.11 302.51L154.11 296.10ZM174.28 302.51L174.28 308.92L181.00 308.92L181.00 302.51ZM187.72 302.51L187.72 308.92L194.44 308.92L194.44 302.51ZM174.28 315.33L174.28 321.75L181.00 321.75L181.00 315.33ZM147.39 321.75L140.67 321.75L140.67 328.16L147.39 328.16ZM147.39 334.57L154.11 334.57L154.11 328.16L147.39 328.16ZM167.56 334.57L160.83 334.57L154.11 334.57L154.11 340.98L160.83 340.98L167.56 340.98ZM174.28 340.98L174.28 347.39L181.00 347.39L181.00 340.98Z"/>
<path fill="#7b8989" fill-rule="evenodd" d="M66.73 379.45L66.73 385.87L66.73 392.28L73.45 392.28L73.45 385.87L73.45 379.45L73.45 373.04L66.73 373.04ZM66.73 411.51L66.73 417.93L66.73 424.34L66.73 430.75L73.45 430.75L73.45 424.34L73.45 417.93L73.45 411.51L73.45 405.10L73.45 398.69L66.73 398.69L66.73 405.10ZM214.61 283.27L207.88 283.27L207.88 289.69L214.61 289.69ZM147.39 353.81L140.67 353.81L140.67 360.22L147.39 360.22ZM147.39 373.04L147.39 366.63L140.67 366.63L140.67 373.04Z"/>
<path fill="#4d6161" fill-rule="evenodd" d="M73.45 417.93L66.73 417.93L66.73 424.34L66.73 430.75L73.45 430.75L73.45 424.34Z"/>
<path fill="#253f3f" fill-rule="evenodd" d="M73.45 417.93L73.45 424.34L66.73 424.34L66.73 417.93Z"/>
</g>
<text x="52.99" y="446.35" font-size="11.73" text-anchor="middle" fill="#4d4d4d">0</text>
<text x="123.00" y="446.35" font-size="11.73" text-anchor="middle" fill="#4d4d4d">1</text>
<text x="193.02" y="446.35" font-size="11.73" text-anchor="middle" fill="#4d4d4d">2</text>
<text x="147.39" y="463.15" font-size="14.67" text-anchor="middle" fill="#000">Petal.Width</text>
<text x="44.27" y="435.05" font-size="11.73" text-anchor="end" fill="#4d4d4d">0%</text>
<text x="44.27" y="394.98" font-size="11.73" text-anchor="end" fill="#4d4d4d">25%</text>
<text x="44.27" y="354.90" font-size="11.73" text-anchor="end" fill="#4d4d4d">50%</text>
<text x="44.27" y="314.82" font-size="11.73" text-anchor="end" fill="#4d4d4d">75%</text>
<text x="44.27" y="274.75" font-size="11.73" text-anchor="end" fill="#4d4d4d">100%</text>
<clipPath id="c5"><rect x="258.18" y="270.45" width="59.19" height="160.30"/></clipPath>
<g clip-path="url(#c5)">
<line x1="258.18" y1="408.31" x2="317.37" y2="408.31" stroke="#e9e9e9" stroke-width="0.75"/>
<line x1="258.18" y1="369.84" x2="317.37" y2="369.84" stroke="#e9e9e9" stroke-width="0.75"/>
<line x1="258.18" y1="331.36" x2="317.37" y2="331.36" stroke="#e9e9e9" stroke-width="0.75"/>
<line x1="258.18" y1="292.89" x2="317.37" y2="292.89" stroke="#e9e9e9" stroke-width="0.75"/>
<line x1="267.60" y1="270.45" x2="267.60" y2="430.75" stroke="#e9e9e9" stroke-width="0.75"/>
<line x1="281.05" y1="270.45" x2="281.05" y2="430.75" stroke="#e9e9e9" stroke-width="0.75"/>
<line x1="294.50" y1="270.45" x2="294.50" y2="430.75" stroke="#e9e9e9" stroke-width="0.75"/>
<line x1="307.95" y1="270.45" x2="307.95" y2="430.75" stroke="#e9e9e9" stroke-width="0.75"/>
<line x1="258.18" y1="427.54" x2="317.37" y2="427.54" stroke="#e9e9e9" stroke-width="1.45"/>
<line x1="258.18" y1="389.07" x2="317.37" y2="389.07" stroke="#e9e9e9" stroke-width="1.45"/>
<line x1="258.18" y1="350.60" x2="317.37" y2="350.60" stroke="#e9e9e9" stroke-width="1.45"/>
<line x1="258.18" y1="312.13" x2="317.37" y2="312.13" stroke="#e9e9e9" stroke-width="1.45"/>
<line x1="258.18" y1="273.66" x2="317.37" y2="273.66" stroke="#e9e9e9" stroke-width="1.45"/>
<line x1="260.87" y1="270.45" x2="260.87" y2="430.75" stroke="#e9e9e9" stroke-width="1.45"/>
<line x1="274.32" y1="270.45" x2="274.32" y2="430.75" stroke="#e9e9e9" stroke-width="1.45"/>
<line x1="287.78" y1="270.45" x2="287.78" y2="430.75" stroke="#e9e9e9" stroke-width="1.45"/>
<line x1="301.23" y1="270.45" x2="301.23" y2="430.75" stroke="#e9e9e9" stroke-width="1.45"/>
<line x1="314.68" y1="270.45" x2="314.68" y2="430.75" stroke="#e9e9e9" stroke-width="1.45"/>
<path d="M260.87 430.75 L314.68 430.75 L314.68 424.34 L314.68 424.34 L314.68 417.93 L305.71 417.93 L305.71 411.51 L305.71 411.51 L305.71 405.10 L305.71 405.10 L305.71 398.69 L305.71 398.69 L305.71 392.28 L305.71 392.28 L305.71 385.87 L301.23 385.87 L301.23 379.45 L292.26 379.45 L292.26 373.04 L269.84 373.04 L269.84 366.63 L269.84 366.63 L269.84 360.22 L274.32 360.22 L274.32 353.81 L265.35 353.81 L265.35 347.39 L260.87 347.39 L260.87 340.98 L260.87 340.98 L260.87 334.57 L260.87 334.57 L260.87 328.16 L260.87 328.16 L260.87 321.75 L260.87 321.75 L260.87 315.33 L260.87 315.33 L260.87 308.92 L260.87 308.92 L260.87 302.51 L260.87 302.51 L260.87 296.10 L260.87 296.10 L260.87 289.69 L260.87 289.69 L260.87 283.27 L260.87 283.27 L260.87 276.86 L260.87 276.86 L260.87 270.45 L260.87 270.45 Z" fill="#253f3f"/>
</g>
<text x="287.78" y="263.80" font-size="11.73" text-anchor="middle" fill="#1a1a1a">setosa</text>
<clipPath id="c6"><rect x="324.70" y="270.45" width="59.19" height="160.30"/></clipPath>
<g clip-path="url(#c6)">
<line x1="324.70" y1="408.31" x2="383.90" y2="408.31" stroke="#e9e9e9" stroke-width="0.75"/>
<line x1="324.70" y1="369.84" x2="383.90" y2="369.84" stroke="#e9e9e9" stroke-width="0.75"/>
<line x1="324.70" y1="331.36" x2="383.90" y2="331.36" stroke="#e9e9e9" stroke-width="0.75"/>
<line x1="324.70" y1="292.89" x2="383.90" y2="292.89" stroke="#e9e9e9" stroke-width="0.75"/>
<line x1="334.12" y1="270.45" x2="334.12" y2="430.75" stroke="#e9e9e9" stroke-width="0.75"/>
<line x1="347.57" y1="270.45" x2="347.57" y2="430.75" stroke="#e9e9e9" stroke-width="0.75"/>
<line x1="361.03" y1="270.45" x2="361.03" y2="430.75" stroke="#e9e9e9" stroke-width="0.75"/>
<line x1="374.48" y1="270.45" x2="374.48" y2="430.75" stroke="#e9e9e9" stroke-width="0.75"/>
<line x1="324.70" y1="427.54" x2="383.90" y2="427.54" stroke="#e9e9e9" stroke-width="1.45"/>
<line x1="324.70" y1="389.07" x2="383.90" y2="389.07" stroke="#e9e9e9" stroke-width="1.45"/>
<line x1="324.70" y1="350.60" x2="383.90" y2="350.60" stroke="#e9e9e9" stroke-width="1.45"/>
<line x1="324.70" y1="312.13" x2="383.90" y2="312.13" stroke="#e9e9e9" stroke-width="1.45"/>
<line x1="324.70" y1="273.66" x2="383.90" y2="273.66" stroke="#e9e9e9" stroke-width="1.45"/>
<line x1="327.39" y1="270.45" x2="327.39" y2="430.75" stroke="#e9e9e9" stroke-width="1.45"/>
<line x1="340.85" y1="270.45" x2="340.85" y2="430.75" stroke="#e9e9e9" stroke-width="1.45"/>
<line x1="354.30" y1="270.45" x2="354.30" y2="430.75" stroke="#e9e9e9" stroke-width="1.45"/>
<line x1="367.75" y1="270.45" x2="367.75" y2="430.75" stroke="#e9e9e9" stroke-width="1.45"/>
<line x1="381.21" y1="270.45" x2="381.21" y2="430.75" stroke="#e9e9e9" stroke-width="1.45"/>
<path d="M327.39 430.75 L327.39 430.75 L327.39 424.34 L327.39 424.34 L327.39 417.93 L331.88 417.93 L331.88 411.51 L331.88 411.51 L331.88 405.10 L336.36 405.10 L336.36 398.69 L336.36 398.69 L336.36 392.28 L336.36 392.28 L336.36 385.87 L340.85 385.87 L340.85 379.45 L349.82 379.45 L349.82 373.04 L372.24 373.04 L372.24 366.63 L367.75 366.63 L367.75 360.22 L358.78 360.22 L358.78 353.81 L358.78 353.81 L358.78 347.39 L363.27 347.39 L363.27 340.98 L367.75 340.98 L367.75 334.57 L358.78 334.57 L358.78 328.16 L354.30 328.16 L354.30 321.75 L345.33 321.75 L345.33 315.33 L336.36 315.33 L336.36 308.92 L340.85 308.92 L340.85 302.51 L354.30 302.51 L354.30 296.10 L354.30 296.10 L354.30 289.69 L340.85 289.69 L340.85 283.27 L336.36 283.27 L336.36 276.86 L327.39 276.86 L327.39 270.45 L327.39 270.45 Z" fill="#253f3f"/>
</g>
<text x="354.30" y="263.80" font-size="11.73" text-anchor="middle" fill="#1a1a1a">versicolor</text>
<clipPath id="c7"><rect x="391.23" y="270.45" width="59.19" height="160.30"/></clipPath>
<g clip-path="url(#c7)">
<line x1="391.23" y1="408.31" x2="450.42" y2="408.31" stroke="#e9e9e9" stroke-width="0.75"/>
<line x1="391.23" y1="369.84" x2="450.42" y2="369.84" stroke="#e9e9e9" stroke-width="0.75"/>
<line x1="391.23" y1="331.36" x2="450.42" y2="331.36" stroke="#e9e9e9" stroke-width="0.75"/>
<line x1="391.23" y1="292.89" x2="450.42" y2="292.89" stroke="#e9e9e9" stroke-width="0.75"/>
<line x1="400.65" y1="270.45" x2="400.65" y2="430.75" stroke="#e9e9e9" stroke-width="0.75"/>
<line x1="414.10" y1="270.45" x2="414.10" y2="430.75" stroke="#e9e9e9" stroke-width="0.75"/>
<line x1="427.55" y1="270.45" x2="427.55" y2="430.75" stroke="#e9e9e9" stroke-width="0.75"/>
<line x1="441.00" y1="270.45" x2="441.00" y2="430.75" stroke="#e9e9e9" stroke-width="0.75"/>
<line x1="391.23" y1="427.54" x2="450.42" y2="427.54" stroke="#e9e9e9" stroke-width="1.45"/>
<line x1="391.23" y1="389.07" x2="450.42" y2="389.07" stroke="#e9e9e9" stroke-width="1.45"/>
<line x1="391.23" y1="350.60" x2="450.42" y2="350.60" stroke="#e9e9e9" stroke-width="1.45"/>
<line x1="391.23" y1="312.13" x2="450.42" y2="312.13" stroke="#e9e9e9" stroke-width="1.45"/>
<line x1="391.23" y1="273.66" x2="450.42" y2="273.66" stroke="#e9e9e9" stroke-width="1.45"/>
<line x1="393.92" y1="270.45" x2="393.92" y2="430.75" stroke="#e9e9e9" stroke-width="1.45"/>
<line x1="407.37" y1="270.45" x2="407.37" y2="430.75" stroke="#e9e9e9" stroke-width="1.45"/>
<line x1="420.82" y1="270.45" x2="420.82" y2="430.75" stroke="#e9e9e9" stroke-width="1.45"/>
<line x1="434.28" y1="270.45" x2="434.28" y2="430.75" stroke="#e9e9e9" stroke-width="1.45"/>
<line x1="447.73" y1="270.45" x2="447.73" y2="430.75" stroke="#e9e9e9" stroke-width="1.45"/>
<path d="M393.92 430.75 L393.92 430.75 L393.92 424.34 L393.92 424.34 L393.92 417.93 L398.40 417.93 L398.40 411.51 L398.40 411.51 L398.40 405.10 L393.92 405.10 L393.92 398.69 L393.92 398.69 L393.92 392.28 L393.92 392.28 L393.92 385.87 L393.92 385.87 L393.92 379.45 L393.92 379.45 L393.92 373.04 L393.92 373.04 L393.92 366.63 L398.40 366.63 L398.40 360.22 L402.89 360.22 L402.89 353.81 L411.86 353.81 L411.86 347.39 L411.86 347.39 L411.86 340.98 L407.37 340.98 L407.37 334.57 L416.34 334.57 L416.34 328.16 L420.82 328.16 L420.82 321.75 L429.79 321.75 L429.79 315.33 L438.76 315.33 L438.76 308.92 L434.28 308.92 L434.28 302.51 L420.82 302.51 L420.82 296.10 L420.82 296.10 L420.82 289.69 L434.28 289.69 L434.28 283.27 L438.76 283.27 L438.76 276.86 L447.73 276.86 L447.73 270.45 L393.92 270.45 Z" fill="#253f3f"/>
</g>
<text x="420.82" y="263.80" font-size="11.73" text-anchor="middle" fill="#1a1a1a">virginica</text>
<text x="354.30" y="463.15" font-size="14.67" text-anchor="middle" fill="#000">Species</text>
<text transform="translate(14.8 19.75) scale(1 0.955)" font-size="17.55" fill="#000">Quantile binned: Sepal.Length</text>
</svg>
</body></html>
